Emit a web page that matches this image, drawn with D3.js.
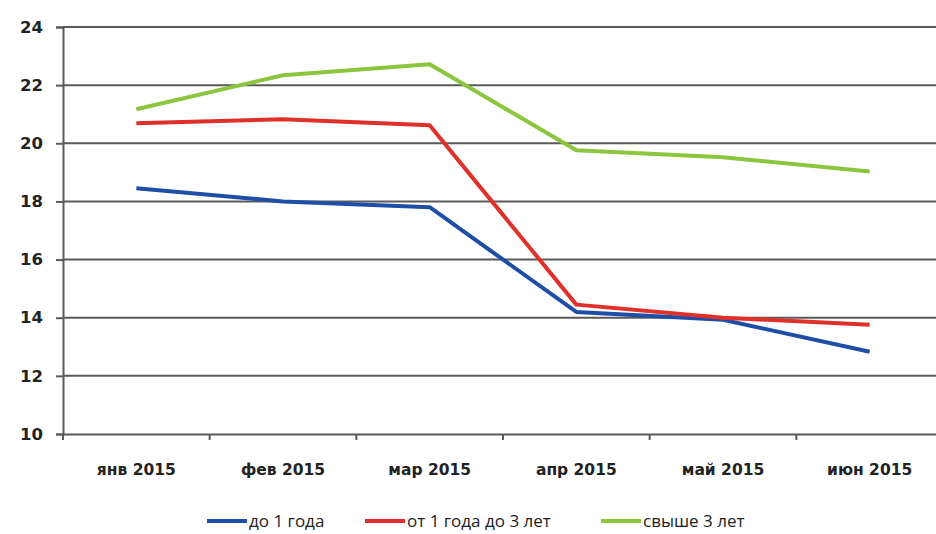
<!DOCTYPE html>
<html>
<head>
<meta charset="utf-8">
<script src="https://cdn.jsdelivr.net/npm/d3@7"></script>
<style>
body { margin: 0; background: #fff; }
.tick text { font-family: "DejaVu Sans", sans-serif; font-weight: bold; fill: #222; }
.legend text { font-family: "Open Sans", sans-serif; fill: #222; }
</style>
</head>
<body>
<div id="chart"></div>
<script>
// categories and series
var months = ["янв 2015", "фев 2015", "мар 2015", "апр 2015", "май 2015", "июн 2015"];
var upTo1 = [18.45, 18.0, 17.8, 14.2, 13.93, 12.83];
var from1to3 = [20.69, 20.83, 20.62, 14.45, 14.0, 13.76];
var over3 = [21.17, 22.34, 22.72, 19.76, 19.52, 19.03];
var seriesNames = ["до 1 года", "от 1 года до 3 лет", "свыше 3 лет"];
var seriesColors = ["#1f4ea6", "#e0302a", "#8cc63f"];
var yTicks = [10, 12, 14, 16, 18, 20, 22, 24];

var svgWidth = 936, svgHeight = 534;
var margin = {top: 27, right: -7, bottom: 100, left: 63};
var chartWidth = svgWidth - margin.left - margin.right;
var chartHeight = svgHeight - margin.top - margin.bottom;

var svg = d3.select("#chart").append("svg")
    .attr("width", svgWidth)
    .attr("height", svgHeight);

var chartGroup = svg.append("g")
    .attr("transform", `translate(${margin.left}, ${margin.top})`);

var xScale = d3.scaleBand().domain(months).range([0, chartWidth]);
var yScale = d3.scaleLinear().domain([10, 24]).range([chartHeight, 0]);

// gridlines
chartGroup.selectAll(".grid")
    .data(yTicks.slice(1))
    .enter()
    .append("line")
    .attr("x1", 0)
    .attr("x2", chartWidth)
    .attr("y1", d => yScale(d))
    .attr("y2", d => yScale(d))
    .attr("stroke", "#5a5a5a")
    .attr("stroke-width", 2);

// y axis
var leftAxis = d3.axisLeft(yScale).tickValues(yTicks).tickSize(7).tickPadding(13).tickFormat(d3.format("d"));
var yAxis = chartGroup.append("g").call(leftAxis);
yAxis.select(".domain").attr("stroke", "#5a5a5a").attr("stroke-width", 2);
yAxis.selectAll(".tick line").attr("stroke", "#5a5a5a").attr("stroke-width", 2);
yAxis.selectAll(".tick text").style("font-size", "16.5px");

// x axis
var bottomAxis = d3.axisBottom(xScale).tickSize(0).tickPadding(30);
var xAxis = chartGroup.append("g")
    .attr("transform", `translate(0, ${chartHeight})`)
    .call(bottomAxis);
xAxis.select(".domain").attr("stroke", "#5a5a5a").attr("stroke-width", 2);
xAxis.selectAll(".tick text").style("font-size", "15.5px");
xAxis.selectAll(".sep")
    .data(months)
    .enter()
    .append("line")
    .attr("x1", d => xScale(d))
    .attr("x2", d => xScale(d))
    .attr("y1", 0)
    .attr("y2", 6)
    .attr("stroke", "#5a5a5a")
    .attr("stroke-width", 2);

// lines
var allSeries = [upTo1, from1to3, over3];
var line = d3.line()
    .x((d, i) => xScale(months[i]) + xScale.bandwidth() / 2)
    .y(d => yScale(d));

chartGroup.selectAll(".series")
    .data(allSeries)
    .enter()
    .append("path")
    .attr("d", d => line(d))
    .attr("fill", "none")
    .attr("stroke", (d, i) => seriesColors[i])
    .attr("stroke-width", 4)
    .attr("stroke-linejoin", "round");

// legend
var legendX = [207, 365, 601];
var legend = svg.append("g").attr("class", "legend");
seriesNames.forEach(function(name, i) {
    var g = legend.append("g").attr("transform", `translate(${legendX[i]}, 521)`);
    g.append("line")
        .attr("x1", 0).attr("x2", 40)
        .attr("y1", 0).attr("y2", 0)
        .attr("stroke", seriesColors[i])
        .attr("stroke-width", 4);
    g.append("text")
        .attr("x", 42)
        .attr("y", 6)
        .style("font-size", "17px")
        .text(name);
});
</script>
</body>
</html>
